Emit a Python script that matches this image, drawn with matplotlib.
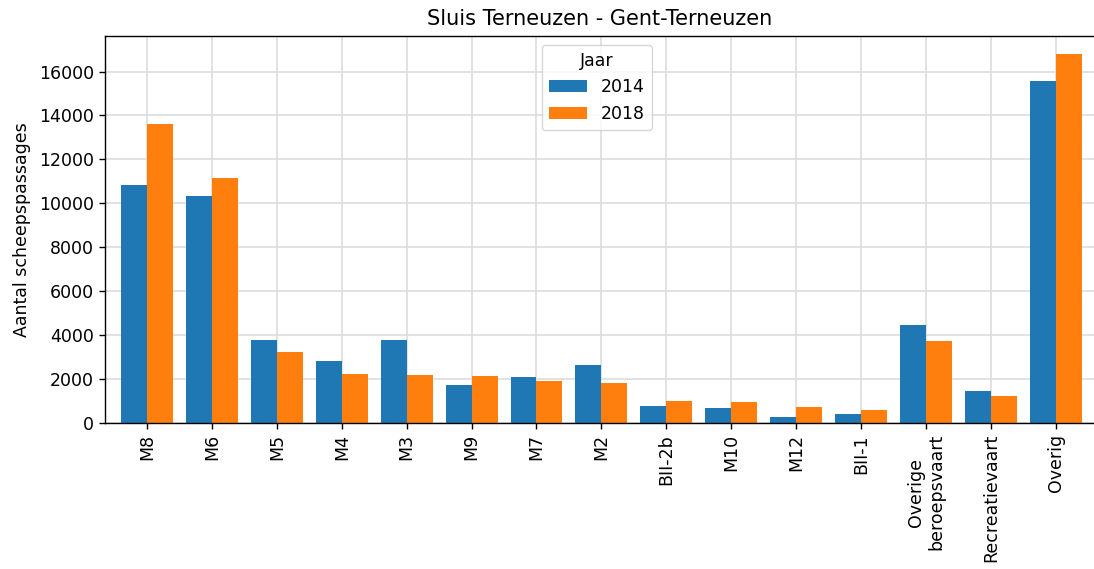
import matplotlib
matplotlib.use("Agg")
import matplotlib.pyplot as plt
import numpy as np

# scheepspassages per klasse, Sluis Terneuzen
klassen = ["M8", "M6", "M5", "M4", "M3", "M9", "M7", "M2", "BII-2b", "M10",
           "M12", "BII-1", "Overige\nberoepsvaart", "Recreatievaart", "Overig"]
jaar_2014 = [10820, 10320, 3800, 2800, 3800, 1720, 2085, 2630, 760, 670,
             260, 395, 4456, 1445, 15590]
jaar_2018 = [13600, 11140, 3250, 2250, 2205, 2130, 1900, 1810, 990, 940,
             715, 580, 3726, 1217, 16776]

fs = 12.5
fig = plt.figure(figsize=(10.94, 5.69), dpi=100)
ax = fig.add_axes([0.096, 0.2566, 0.904, 0.68])

x = np.arange(len(klassen))
w = 0.4
ax.bar(x - w / 2, jaar_2014, width=w, color="#1f77b4", label="2014", zorder=2)
ax.bar(x + w / 2, jaar_2018, width=w, color="#ff7f0e", label="2018", zorder=2)

ax.set_xticks(x)
ax.set_xticklabels(klassen, rotation=90, fontsize=fs, ha="center")
ax.tick_params(axis="y", labelsize=fs)
ax.tick_params(length=4.4, width=1)
ax.set_xlim(-0.648, 14.59)
ax.set_ylabel("Aantal scheepspassages", fontsize=fs, labelpad=6)
ax.set_title("Sluis Terneuzen - Gent-Terneuzen", fontsize=15, pad=8)

ax.grid(True, color="#dddddd", linewidth=1.2, zorder=0)
ax.set_axisbelow(True)
for s in ax.spines.values():
    s.set_linewidth(1)
ax.spines["right"].set_visible(False)

leg = ax.legend(title="Jaar", loc="upper center", fontsize=fs, title_fontsize=fs,
                bbox_to_anchor=(0.497, 1.0), handlelength=2.2)

fig.savefig("out.png", dpi=100)
